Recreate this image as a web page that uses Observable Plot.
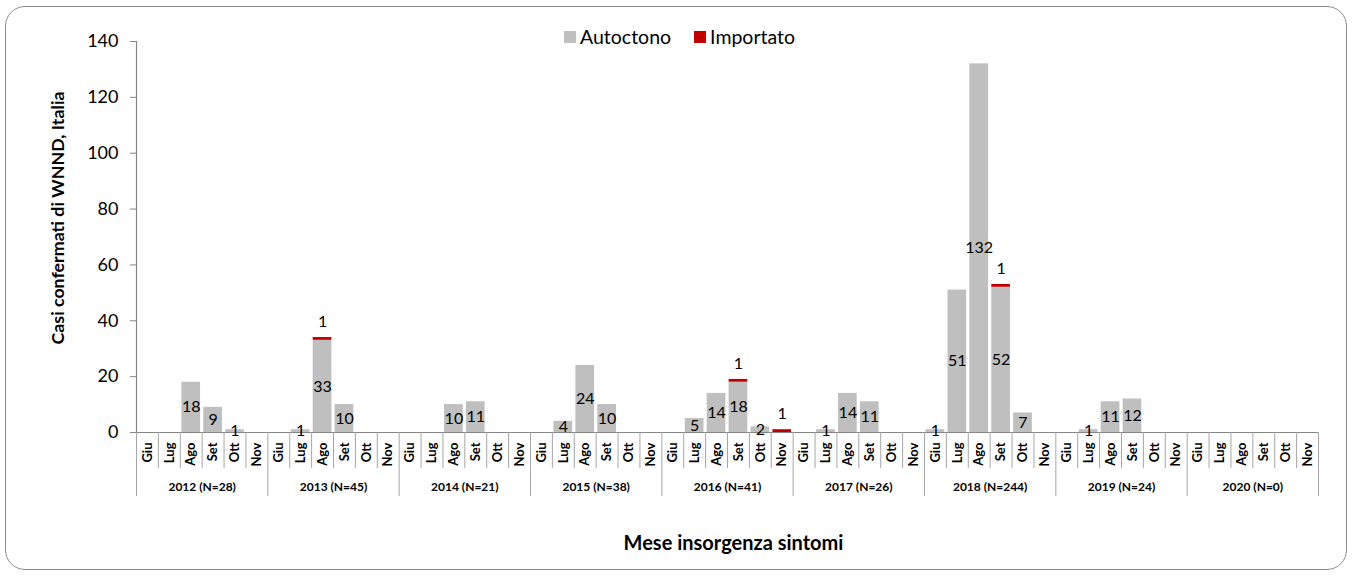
<!DOCTYPE html>
<html><head><meta charset="utf-8">
<script src="https://cdn.jsdelivr.net/npm/d3@7"></script>
<script src="https://cdn.jsdelivr.net/npm/@observablehq/plot@0.6"></script>
<style>
body{margin:0;background:#fff;font-family:Lato,sans-serif}
#wrap{position:relative;width:1355px;height:576px;overflow:hidden}
#chart{position:absolute;left:0;top:0}
#frame{position:absolute;left:5px;top:6px;width:1340px;height:562px;border:1.3px solid #8c8c8c;border-radius:20px;pointer-events:none}
#legend{position:absolute;top:26px;left:564px;display:flex;align-items:center;font-size:19.5px;color:#000;line-height:22px}
#legend .sw{width:12px;height:12px;display:inline-block;margin-right:4px}
#legend .it{display:flex;align-items:center;margin-right:23px}
</style></head><body>
<div id="wrap"><div id="chart"></div><div id="frame"></div><div id="legend"></div></div>
<script>
const years = ["2012","2013","2014","2015","2016","2017","2018","2019","2020"];
const yearTotals = [28,45,21,38,41,26,244,24,0];
const months = ["Giu","Lug","Ago","Set","Ott","Nov"];
const autoctono = [
  [0,0,18,9,1,0],
  [0,1,33,10,0,0],
  [0,0,10,11,0,0],
  [0,4,24,10,0,0],
  [0,5,14,18,2,0],
  [0,1,14,11,0,0],
  [1,51,132,52,7,0],
  [0,1,11,12,0,0],
  [0,0,0,0,0,0]
];
const importato = [
  [0,0,0,0,0,0],
  [0,0,1,0,0,0],
  [0,0,0,0,0,0],
  [0,0,0,0,0,0],
  [0,0,0,1,0,1],
  [0,0,0,0,0,0],
  [0,0,0,1,0,0],
  [0,0,0,0,0,0],
  [0,0,0,0,0,0]
];
const yTicks = [0,20,40,60,80,100,120,140];
const seriesNames = ["Autoctono","Importato"];
const seriesColors = ["#bfbfbf","#c00000"];
const yTitle = "Casi confermati di WNND, Italia";
const xTitle = "Mese insorgenza sintomi";

const rows = [];
years.forEach((y, yi) => months.forEach((m, mi) => {
  rows.push({i: yi*6+mi, year: y, month: m, a: autoctono[yi][mi], m: importato[yi][mi]});
}));
const n = rows.length;

const chart = Plot.plot({
  width: 1355, height: 576,
  marginLeft: 136, marginRight: 37, marginTop: 41, marginBottom: 144,
  style: {fontFamily: "Lato, sans-serif", background: "transparent", color: "#000", overflow: "visible"},
  x: {domain: [0, n], axis: null},
  y: {domain: [0, 140], axis: null},
  marks: [
    Plot.rect(rows.filter(d => d.a > 0), {x1: d => d.i, x2: d => d.i + 1, y1: 0, y2: "a", fill: seriesColors[0], insetLeft: 1.6, insetRight: 1.6}),
    Plot.rect(rows.filter(d => d.m > 0), {x1: d => d.i, x2: d => d.i + 1, y1: "a", y2: d => d.a + d.m, fill: seriesColors[1], insetLeft: 1.6, insetRight: 1.6}),
    Plot.ruleY([0], {stroke: "#868686", strokeWidth: 1.2}),
    Plot.ruleX([0], {stroke: "#868686", strokeWidth: 1.2}),
    Plot.axisY({ticks: yTicks, tickSize: 6, tickPadding: 12, fontSize: 18, stroke: "#868686", fill: "#000", label: null}),
    Plot.axisX({ticks: d3.range(0, n + 1).filter(t => t % 6 !== 0), tickSize: 36, tickFormat: () => "", stroke: "#a6a6a6", label: null}),
    Plot.axisX({ticks: d3.range(0, n + 1, 6), tickSize: 64, tickFormat: () => "", stroke: "#a6a6a6", label: null}),
    Plot.text(rows, {x: d => d.i + 0.5, y: () => 0, text: "month", rotate: -90, textAnchor: "end", lineAnchor: "middle", dy: 10, fontWeight: "bold", fontSize: 13, fill: "#000"}),
    Plot.axisX({ticks: years.map((y, k) => k*6 + 3), tickSize: 0, tickPadding: 50, tickFormat: t => `${years[Math.floor(t/6)]} (N=${yearTotals[Math.floor(t/6)]})`, fontWeight: "bold", fontSize: 12, label: null}),
    Plot.text(rows.filter(d => d.a > 0), {x: d => d.i + 0.5, y: d => d.a / 2, text: d => String(d.a), fontSize: 16, fill: "#000"}),
    Plot.text(rows.filter(d => d.m > 0), {x: d => d.i + 0.5, y: d => d.a + d.m, text: d => String(d.m), dy: -16, fontSize: 16, fill: "#000"}),
    Plot.text([yTitle], {text: d => d, frameAnchor: "left", textAnchor: "middle", lineAnchor: "middle", rotate: -90, dx: -78, dy: -19, fontWeight: "bold", fontSize: 17.8, fill: "#000"}),
    Plot.text([xTitle], {text: d => d, frameAnchor: "bottom", textAnchor: "middle", lineAnchor: "middle", dx: 6, dy: 111, fontWeight: "bold", fontSize: 20, fill: "#000"})
  ]
});
document.getElementById("chart").appendChild(chart);

const legend = document.getElementById("legend");
seriesNames.forEach((s, k) => {
  const it = document.createElement("span");
  it.className = "it";
  const sw = document.createElement("span");
  sw.className = "sw";
  sw.style.background = seriesColors[k];
  it.appendChild(sw);
  it.appendChild(document.createTextNode(s));
  legend.appendChild(it);
});
</script>
</body></html>
